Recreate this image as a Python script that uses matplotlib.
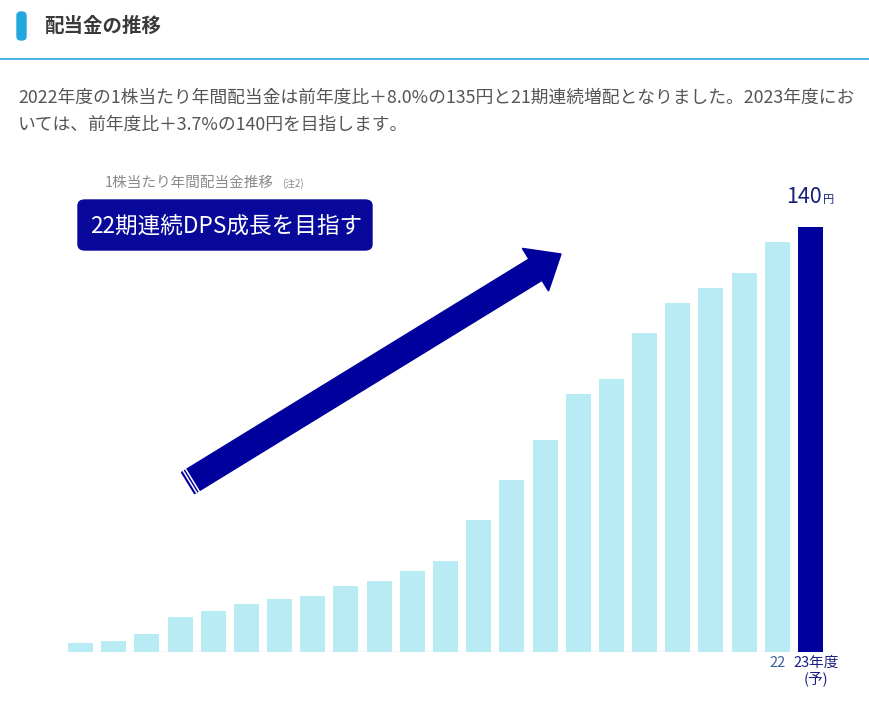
import numpy as np
import matplotlib
matplotlib.use("Agg")
import matplotlib.pyplot as plt
from matplotlib.patches import Polygon, FancyBboxPatch
from matplotlib.lines import Line2D

plt.rcParams['font.family'] = ['Noto Sans CJK JP', 'DejaVu Sans']

# data: yearly dividend per share (yen), FY2001 - FY2023 (forecast)
years = ['01', '02', '03', '04', '05', '06', '07', '08', '09', '10', '11', '12',
         '13', '14', '15', '16', '17', '18', '19', '20', '21', '22', '23年度\n(予)']
dps = [3.0, 3.6, 5.9, 11.5, 13.5, 15.8, 17.5, 18.4, 21.7, 23.4, 26.7, 30.0,
       43.5, 56.7, 70.0, 85.0, 90.0, 105.0, 115.0, 120.0, 125.0, 135.0, 140.0]

W, H = 870, 704
LIGHT = '#b9ebf5'
NAVY = '#00009c'


def fx(x):
    return x / W


def fy(y):
    return 1 - y / H


fig = plt.figure(figsize=(W / 100, H / 100), dpi=100)
fig.patch.set_facecolor('white')

# header
fig.patches.append(FancyBboxPatch((fx(17), fy(40)), fx(9), 28 / H,
                                  boxstyle='round,pad=0,rounding_size=0.005',
                                  transform=fig.transFigure, color='#22a7de', zorder=3))
fig.text(fx(44), fy(26), '配当金の推移', fontsize=14, fontweight='bold',
         color='#3a3a3a', va='center', ha='left')
fig.lines.append(Line2D([0, 1], [fy(59), fy(59)], transform=fig.transFigure,
                        color='#3aaee0', lw=1.3))

para1 = '2022年度の1株当たり年間配当金は前年度比＋8.0%の135円と21期連続増配となりました。2023年度にお'
para2 = 'いては、前年度比＋3.7%の140円を目指します。'
fig.text(fx(18), fy(98), para1, fontsize=12.8, color='#555555', va='center', ha='left')
fig.text(fx(18), fy(125), para2, fontsize=12.8, color='#555555', va='center', ha='left')

# bars
ax = fig.add_axes([fx(60), fy(652), fx(770), 452 / H])
x = np.arange(len(dps))
colors = [LIGHT] * (len(dps) - 1) + [NAVY]
ax.bar(x, dps, width=0.755, color=colors, zorder=2)
ax.set_xlim(-0.618, 22.588)
ax.set_ylim(0, 148.9)
ax.axhline(0, xmin=0.005, xmax=0.975, color='#d8d8d8', lw=1, zorder=1)
for s in ax.spines.values():
    s.set_visible(False)
ax.set_yticks([])
ax.set_xticks([])

# only the last two year labels are shown
ax.annotate(years[-2], (x[-2], 0), xytext=(0, -3), textcoords='offset points',
            ha='center', va='top', fontsize=10.5, color='#3c5f9c')
ax.annotate(years[-1], (x[-1], 0), xytext=(4, -3), textcoords='offset points',
            ha='center', va='top', fontsize=10.5, color='#1a1f80', linespacing=1.1)

# value label on last bar
ax.annotate(f'{dps[-1]:.0f}', (x[-1], dps[-1]), xytext=(8.3, 17.3),
            textcoords='offset points', ha='right', va='baseline',
            fontsize=15.5, color='#16207a')
ax.annotate('円', (x[-1], dps[-1]), xytext=(9.3, 17.3),
            textcoords='offset points', ha='left', va='baseline',
            fontsize=8, color='#16207a')

# chart title and message box
fig.text(fx(105), fy(183), '1株当たり年間配当金推移', fontsize=10.5, color='#8a8a8a',
         va='center', ha='left')
fig.text(fx(282), fy(184), '(注2)', fontsize=7, color='#8a8a8a', va='center', ha='left')
fig.patches.append(FancyBboxPatch((fx(78), fy(250)), fx(294), 50 / H,
                                  boxstyle='round,pad=0,rounding_size=0.008',
                                  transform=fig.transFigure, color='#08089a', zorder=3))
fig.text(fx(226), fy(226), '22期連続DPS成長を目指す', fontsize=16.3, color='white',
         va='center', ha='center', zorder=4)

# big arrow
tail = np.array([188.0, 483.0])
tip = np.array([561.0, 254.0])
d = tip - tail
L = np.hypot(*d)
u = d / L
n = np.array([-u[1], u[0]])
hw, hhw, hl = 12.5, 25.0, 30.0
base = tail + (L - hl) * u
pts = [tail + n * hw, base + n * hw, base + n * hhw, tip,
       base - n * hhw, base - n * hw, tail - n * hw]
fig.patches.append(Polygon([(fx(p[0]), fy(p[1])) for p in pts], closed=True,
                           transform=fig.transFigure, color=NAVY, zorder=3))
for off in (2.2, 5.2):
    a = tail + off * u + n * (hw + 1)
    b = tail + off * u - n * (hw + 1)
    fig.lines.append(Line2D([fx(a[0]), fx(b[0])], [fy(a[1]), fy(b[1])],
                            transform=fig.transFigure, color='white', lw=1.1, zorder=4))

fig.savefig('out.png', dpi=100, facecolor='white')
